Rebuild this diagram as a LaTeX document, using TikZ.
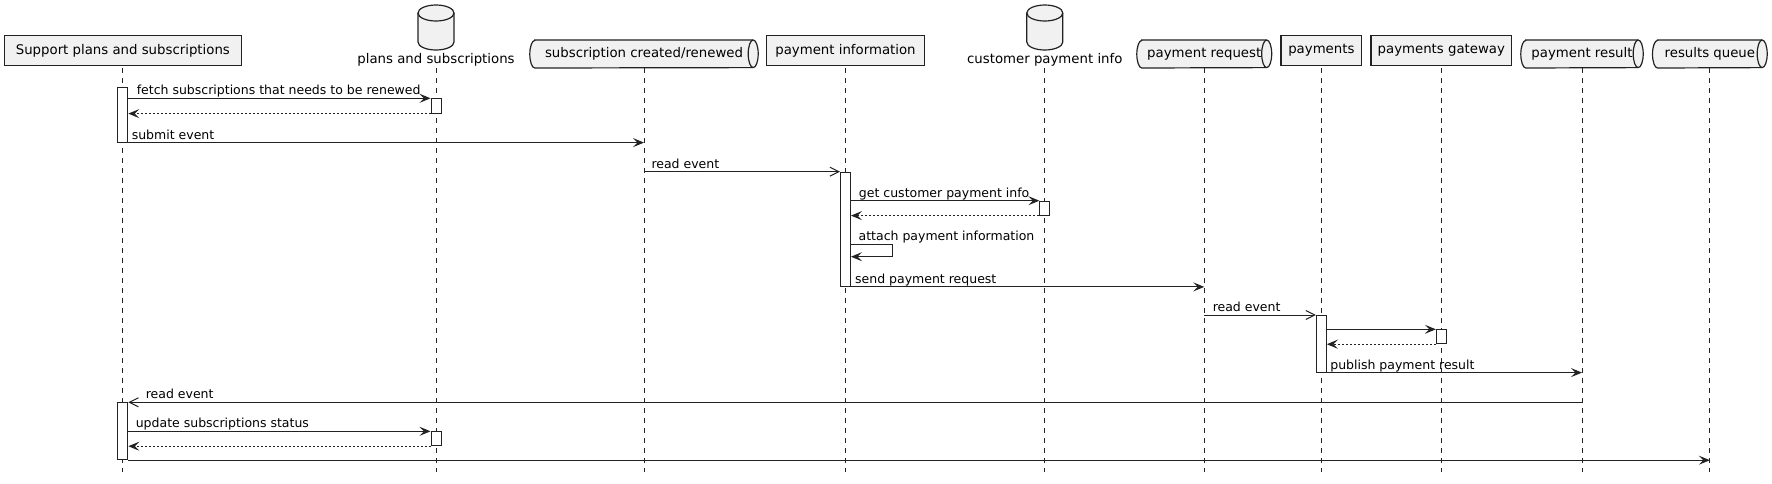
\documentclass[tikz,border=0pt]{standalone}
\usepackage{fontspec}
\setmainfont{DejaVu Sans}
\usetikzlibrary{arrows.meta,backgrounds}

\definecolor{umlline}{HTML}{222222}
\definecolor{umlfill}{HTML}{F1F1F1}

\newcommand\partfont{\fontsize{13.3}{16}\selectfont}
\newcommand\msgfont{\fontsize{12.5}{15}\selectfont}

\tikzset{
  partbox/.style={draw=umlline, fill=umlfill, line width=1.2pt, font=\partfont, minimum height=30pt, inner sep=0pt},
  queuebox/.style={font=\partfont, minimum height=27.6pt, inner sep=0pt},
  dblabel/.style={font=\partfont, inner sep=0pt},
  partline/.style={draw=umlline, fill=umlfill, line width=1.2pt},
  lifeline/.style={umlline, line width=0.8pt, dash pattern=on 5pt off 5pt},
  act/.style={draw=umlline, fill=white, line width=0.9pt, minimum width=10pt, inner sep=0pt, anchor=north},
  call/.style={umlline, line width=1pt, -{Stealth[length=11pt,width=9pt,inset=4.5pt]}},
  reply/.style={call, dash pattern=on 2pt off 2pt},
  event/.style={umlline, line width=1pt, -{Straight Barb[length=9pt,width=9pt]}},
  lbl/.style={anchor=base west, inner sep=0pt, font=\msgfont, text=black, yshift=3.5pt}
}

\newcommand\queueshape[1]{%
  \draw[partline] ([xshift=5pt]#1.north west) -- ([xshift=-5pt]#1.north east)
    arc[start angle=90, end angle=-90, x radius=5pt, y radius=13.8pt]
    -- ([xshift=5pt]#1.south west)
    arc[start angle=270, end angle=90, x radius=5pt, y radius=13.8pt] -- cycle;
  \draw[umlline, line width=1.2pt] ([xshift=-5pt]#1.north east)
    arc[start angle=90, end angle=270, x radius=5pt, y radius=13.8pt];}

\newcommand\dbcan[1]{%
  \draw[partline] ([shift={(-18,46.5)}]#1.center) -- ([shift={(-18,17.5)}]#1.center)
    arc[start angle=180, end angle=360, x radius=18pt, y radius=8pt]
    -- ([shift={(18,46.5)}]#1.center)
    arc[start angle=0, end angle=180, x radius=18pt, y radius=8pt] -- cycle;
  \draw[umlline, line width=1.2pt] ([shift={(-18,46.5)}]#1.center)
    arc[start angle=180, end angle=360, x radius=18pt, y radius=8pt];}

\begin{document}
\begin{tikzpicture}[x=1pt, y=1pt]
\useasboundingbox (0,0) rectangle (1772,-483);

\node[partbox, minimum width=236.5pt] (sup) at (122.85,-50.7) {Support plans and subscriptions};
\node[dblabel] (plans) at (436,-59.5) {plans and subscriptions};
\node[queuebox, minimum width=228pt] (created) at (644,-54) {subscription created/renewed};
\node[partbox, minimum width=157.6pt] (info) at (845.5,-50.7) {payment information};
\node[dblabel] (custinfo) at (1044.8,-59.5) {customer payment info};
\node[queuebox, minimum width=134.5pt] (request) at (1204.25,-54) {payment request};
\node[partbox, minimum width=80.7pt] (payments) at (1321.35,-50.7) {payments};
\node[partbox, minimum width=140.6pt] (gateway) at (1441.3,-50.7) {payments gateway};
\node[queuebox, minimum width=122pt] (result) at (1582,-54) {payment result};
\node[queuebox, minimum width=114.3pt] (results) at (1709.85,-54) {results queue};

\begin{pgfonlayer}{background}
\fill[white] (0,0) rectangle (1772,-483);
\foreach \p in {sup,plans,created,info,custinfo,request,payments,gateway,result,results}
  \draw[lifeline] (\p |- 0,-68) -- (\p |- 0,-472);
\foreach \q in {created,request,result,results}
  {\queueshape{\q}}
\dbcan{plans}
\dbcan{custinfo}
\end{pgfonlayer}

\node[act, minimum height=54.4pt] (supA1) at (sup |- 0,-87.3) {};
\node[act, minimum height=14.4pt] (plansA1) at (plans |- 0,-98.3) {};
\node[act, minimum height=114.3pt] (infoA) at (info |- 0,-171.7) {};
\node[act, minimum height=14pt] (custA) at (custinfo |- 0,-200.7) {};
\node[act, minimum height=56.7pt] (payA) at (payments |- 0,-315) {};
\node[act, minimum height=14pt] (gwA) at (gateway |- 0,-329.3) {};
\node[act, minimum height=57pt] (supA2) at (sup |- 0,-402.3) {};
\node[act, minimum height=14pt] (plansA2) at (plans |- 0,-431.3) {};

\draw[call] (supA1.east |- plansA1.north) -- (plansA1.north west)
  node[lbl, pos=0, xshift=8pt] {fetch subscriptions that needs to be renewed};
\draw[reply] (plansA1.south west) -- (supA1.east |- plansA1.south);
\draw[call] (supA1.south east) -- (created |- supA1.south)
  node[lbl, pos=0, xshift=3pt] {submit event};

\draw[event] (created |- infoA.north) -- (infoA.north west)
  node[lbl, pos=0, xshift=7pt] {read event};
\draw[call] (infoA.east |- custA.north) -- (custA.north west)
  node[lbl, pos=0, xshift=7.5pt] {get customer payment info};
\draw[reply] (custA.south west) -- (infoA.east |- custA.south);
\draw[call] (infoA.east |- 0,-244.3) -- ++(42,0) -- ++(0,-12.4) -- ++(-42,0);
\node[lbl, xshift=7.5pt] (attach) at (infoA.east |- 0,-244.3) {attach payment information};
\draw[call] (infoA.south east) -- (request |- infoA.south)
  node[lbl, pos=0, xshift=3.7pt] {send payment request};

\draw[event] (request |- payA.north) -- (payA.north west)
  node[lbl, pos=0, xshift=8pt] {read event};
\draw[call] (payA.east |- gwA.north) -- (gwA.north west);
\draw[reply] (gwA.south west) -- (payA.east |- gwA.south);
\draw[call] (payA.south east) -- (result |- payA.south)
  node[lbl, pos=0, xshift=3pt] {publish payment result};

\draw[event] (result |- supA2.north) -- (supA2.north east)
  node[lbl, pos=1, xshift=17pt] {read event};
\draw[call] (supA2.east |- plansA2.north) -- (plansA2.north west)
  node[lbl, pos=0, xshift=7pt] {update subscriptions status};
\draw[reply] (plansA2.south west) -- (supA2.east |- plansA2.south);
\draw[call] (supA2.south east) -- (results |- supA2.south);

\end{tikzpicture}
\end{document}
